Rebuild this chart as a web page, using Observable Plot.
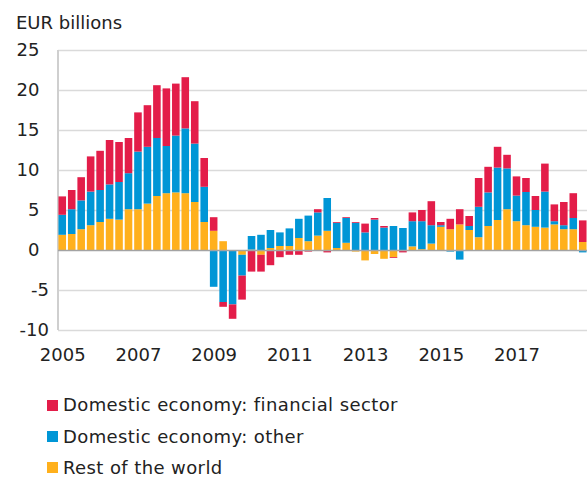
<!DOCTYPE html>
<html><head><meta charset="utf-8">
<script src="https://cdn.jsdelivr.net/npm/d3@7"></script>
<script src="https://cdn.jsdelivr.net/npm/@observablehq/plot@0.6"></script>
<style>
body{margin:0;background:#fff;font-family:"DejaVu Sans",Verdana,sans-serif;color:#222;}
#wrap{position:relative;width:587px;height:478px;overflow:hidden;}
#title{position:absolute;left:16px;top:14px;font-size:18px;line-height:18px;white-space:nowrap;}
#chart{position:absolute;left:0;top:36px;}
.leg{position:absolute;left:47px;height:14px;display:flex;align-items:center;font-size:18px;line-height:14px;white-space:nowrap;letter-spacing:0.4px;}
.sw{width:11px;height:11px;margin-right:5px;flex:none;}
</style>
</head><body>
<div id="wrap">
  <div id="title">EUR billions</div>
  <div id="chart"></div>
  <div id="legend"></div>
</div>
<script>
const years = [2005,2006,2007,2008,2009,2010,2011,2012,2013,2014,2015,2016,2017,2018];
const quarterNames = ["Q1","Q2","Q3","Q4"];
const tickYears = [2005,2007,2009,2011,2013,2015,2017];
const seriesNames = ["Rest of the world","Domestic economy: other","Domestic economy: financial sector"];
const legendOrder = ["Domestic economy: financial sector","Domestic economy: other","Rest of the world"];
const seriesColors = ["#ffb01c","#0096d6","#e31d49"];

const restOfWorld = [
  1.9,2.0,2.6,3.1, 3.5,3.9,3.8,5.1, 5.1,5.8,6.75,7.1, 7.2,7.1,6.0,3.5,
  2.4,1.1,0,-0.6, 0.05,-0.6,0.25,0.5, 0.5,1.5,1.1,1.8, 2.4,0.25,0.9,-0.2,
  -1.3,-0.5,-1.1,-0.9, 0,0.45,0.1,0.8, 2.9,2.6,3.2,2.5, 1.6,3.0,3.75,5.1,
  3.6,3.1,2.9,2.8, 3.2,2.6,2.6,1.0
];
const domesticOther = [
  2.5,3.1,3.6,4.2, 4.0,4.3,4.7,4.5, 7.2,7.1,7.25,5.9, 7.1,8.1,7.3,4.4,
  -4.6,-6.5,-6.8,-2.6, 1.7,1.9,2.25,1.7, 2.2,2.4,3.2,2.9, 4.1,3.15,3.1,3.4,
  2.2,3.8,2.8,3.0, 2.75,3.15,3.5,2.3, 0.2,-0.2,-1.2,0.5, 3.8,4.2,6.55,5.1,
  3.2,4.15,2.1,4.5, 0.4,0.5,1.4,-0.3
];
const domesticFinancial = [
  2.3,2.4,2.9,4.4, 4.9,5.55,5.0,4.4, 4.9,5.2,6.6,7.2, 6.5,6.4,5.3,3.6,
  1.7,-0.6,-1.8,-3.0, -2.7,-2.1,-1.9,-0.9, -0.6,-0.6,-0.2,0.4, -0.3,0.1,0.1,0.1,
  1.1,0.2,0.2,-0.1, -0.3,1.1,1.4,3.0, 0.4,1.3,1.9,1.25, 3.6,3.2,2.6,1.7,
  2.4,1.75,1.75,3.5, 2.1,2.9,3.1,2.7
];
const yTicksPos = [0,5,10,15,20,25];
const yTicksNeg = [-10,-5];
const gridValues = [-10,-5,5,10,15,20,25];

const quarters = years.flatMap(y => quarterNames.map(q => y + q));
const tickQuarters = tickYears.map(y => y + "Q1");
const seriesValues = [restOfWorld, domesticOther, domesticFinancial];
const data = [];
quarters.forEach((q, i) => {
  seriesNames.forEach((s, j) => data.push({quarter: q, series: s, value: seriesValues[j][i]}));
});

function leftLine(...args) {
  const d = args.find(a => a && typeof a === "object" && "marginLeft" in a && "height" in a);
  const g = d3.create("svg:g");
  g.append("line")
    .attr("x1", d.marginLeft).attr("x2", d.marginLeft)
    .attr("y1", d.marginTop).attr("y2", d.height - d.marginBottom)
    .attr("stroke", "#cfcfcf").attr("stroke-width", 2);
  return g.node();
}

const plot = Plot.plot({
  width: 587,
  height: 334,
  marginTop: 14,
  marginBottom: 40,
  marginLeft: 58,
  marginRight: 0,
  style: {fontFamily: '"DejaVu Sans", Verdana, sans-serif', fontSize: "18px", color: "#222", background: "transparent"},
  x: {type: "band", domain: quarters, paddingInner: 0.2, paddingOuter: 0.05, round: false, label: null},
  y: {domain: [-10, 25], label: null},
  color: {domain: seriesNames, range: seriesColors},
  marks: [
    Plot.ruleY(gridValues, {stroke: "#dadada", strokeWidth: 1.5}),
    leftLine,
    Plot.barY(data, Plot.stackY({x: "quarter", y: "value", fill: "series", order: seriesNames})),
    Plot.ruleY([0], {stroke: "#a3a3a3", strokeWidth: 1.5}),
    Plot.axisX({ticks: tickQuarters, tickFormat: q => q.slice(0, 4), tickSize: 0, tickPadding: 18, fontSize: 18, label: null}),
    Plot.axisY({ticks: yTicksPos, tickFormat: d => String(d), tickSize: 0, tickPadding: 19, fontSize: 18, label: null}),
    Plot.axisY({ticks: yTicksNeg, tickFormat: d => String(d), tickSize: 0, tickPadding: 9.5, fontSize: 18, label: null})
  ]
});
document.getElementById("chart").appendChild(plot);

const legendTops = [398, 429.5, 460.5];
const legend = document.getElementById("legend");
legendOrder.forEach((name, i) => {
  const row = document.createElement("div");
  row.className = "leg";
  row.style.top = legendTops[i] + "px";
  const sw = document.createElement("span");
  sw.className = "sw";
  sw.style.background = seriesColors[seriesNames.indexOf(name)];
  row.appendChild(sw);
  row.appendChild(document.createTextNode(name));
  legend.appendChild(row);
});
</script>
</body></html>
